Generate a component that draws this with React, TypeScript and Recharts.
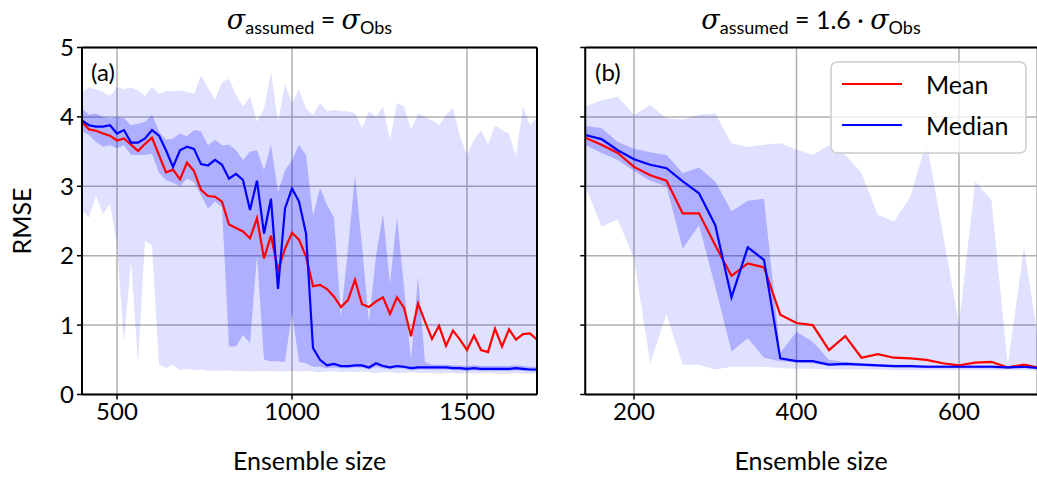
import React from 'react';
import { ComposedChart, Area, Line, XAxis, YAxis, CartesianGrid, ReferenceLine } from 'recharts';

const FONT = 'Lato, "DejaVu Sans", sans-serif';
const SERIF = '"DejaVu Serif", "Liberation Serif", serif';

// ---------- Panel (a): sigma_assumed = sigma_Obs ----------
const xA = [400,420,440,460,480,500,520,540,560,580,600,620,640,660,680,700,720,740,760,780,800,820,840,860,880,900,920,940,960,980,1000,1020,1040,1060,1080,1100,1120,1140,1160,1180,1200,1220,1240,1260,1280,1300,1320,1340,1360,1380,1400,1420,1440,1460,1480,1500,1520,1540,1560,1580,1600,1620,1640,1660,1680,1700];
const meanA = [3.93,3.82,3.80,3.76,3.73,3.66,3.69,3.60,3.51,3.61,
  3.70,3.45,3.20,3.24,3.10,3.34,3.22,2.95,2.86,2.85,
  2.78,2.45,2.40,2.35,2.25,2.54,1.96,2.29,1.79,2.10,
  2.33,2.23,1.99,1.56,1.58,1.52,1.41,1.26,1.36,1.65,
  1.30,1.26,1.34,1.40,1.16,1.40,1.25,0.84,1.31,1.05,
  0.80,0.99,0.70,0.92,0.79,0.64,0.85,0.64,0.61,0.95,
  0.69,0.94,0.79,0.87,0.88,0.79];
const medianA = [3.95,3.88,3.86,3.86,3.88,3.76,3.81,3.63,3.63,3.69,
  3.81,3.73,3.52,3.28,3.52,3.57,3.54,3.32,3.30,3.38,
  3.31,3.11,3.18,3.09,2.66,3.08,2.32,2.82,1.52,2.68,
  2.97,2.78,2.32,0.67,0.50,0.42,0.44,0.41,0.41,0.42,
  0.42,0.39,0.45,0.41,0.39,0.41,0.40,0.38,0.39,0.39,
  0.39,0.39,0.39,0.38,0.38,0.37,0.38,0.37,0.37,0.37,
  0.37,0.37,0.38,0.37,0.36,0.36];
const lightHiA = [4.36,4.42,4.40,4.36,4.30,4.43,4.40,4.42,4.38,4.30,
  4.43,4.33,4.37,4.37,4.38,4.36,4.33,4.60,4.42,4.25,
  4.50,4.55,4.32,4.15,4.29,3.93,4.12,4.65,3.93,4.48,
  4.20,4.39,4.12,4.03,4.20,4.08,4.10,4.08,4.08,4.05,
  3.84,4.08,4.00,4.15,3.67,4.20,4.15,3.81,4.05,4.00,
  3.95,3.88,4.03,4.13,3.72,3.45,3.67,3.81,3.60,3.88,
  3.81,3.76,3.43,4.15,3.88,4.00];
const lightLoA = [2.65,2.55,2.86,2.60,2.75,2.15,0.75,1.93,0.46,2.22,
  2.14,0.43,0.38,0.43,0.35,0.37,0.35,0.36,0.34,0.35,
  0.34,0.35,0.34,0.34,0.33,0.34,0.33,0.34,0.33,0.33,
  0.34,0.33,0.34,0.33,0.32,0.33,0.33,0.32,0.33,0.32,
  0.33,0.32,0.31,0.32,0.32,0.31,0.31,0.32,0.31,0.31,
  0.31,0.30,0.31,0.31,0.30,0.31,0.30,0.30,0.31,0.30,
  0.30,0.30,0.31,0.30,0.30,0.30];
const darkHiA = [4.12,4.03,4.05,4.00,3.98,4.00,3.98,3.88,3.90,3.93,
  4.03,3.79,3.67,3.69,3.76,3.72,3.81,3.79,3.59,3.67,
  3.59,3.60,3.52,3.38,3.50,3.52,3.23,3.60,2.92,3.23,
  3.38,3.60,3.45,2.58,2.98,2.73,2.55,1.12,2.10,3.16,
  2.14,1.04,2.00,2.60,1.60,2.56,1.55,0.50,1.70,0.47,
  0.43,0.43,0.43,0.42,0.42,0.41,0.42,0.41,0.41,0.41,
  0.41,0.41,0.42,0.41,0.40,0.40];
const darkLoA = [3.79,3.74,3.64,3.57,3.59,3.55,3.59,3.45,3.45,3.45,
  3.47,3.19,3.09,3.05,3.00,3.11,3.06,2.87,2.68,2.78,
  2.70,0.69,0.69,0.86,0.74,2.00,0.50,0.48,0.48,0.47,
  1.19,0.47,0.45,0.40,0.40,0.38,0.39,0.38,0.38,0.39,
  0.39,0.36,0.40,0.38,0.36,0.38,0.37,0.35,0.36,0.36,
  0.36,0.36,0.36,0.35,0.35,0.34,0.35,0.34,0.34,0.34,
  0.34,0.34,0.35,0.34,0.33,0.33];

// ---------- Panel (b): sigma_assumed = 1.6 * sigma_Obs ----------
const xB = [140,160,180,200,220,240,260,280,300,320,340,360,380,400,420,440,460,480,500,520,540,560,580,600,620,640,660,680,700];
const meanB = [3.70,3.60,3.48,3.28,3.16,3.08,2.61,2.61,2.15,1.71,1.89,1.83,1.15,1.03,1.00,0.64,0.84,0.53,0.58,0.53,0.52,0.50,0.45,0.42,0.46,0.47,0.39,0.43,0.38];
const medianB = [3.74,3.68,3.52,3.39,3.31,3.26,3.07,2.90,2.44,1.40,2.12,1.94,0.52,0.48,0.48,0.43,0.44,0.43,0.42,0.41,0.41,0.40,0.40,0.40,0.40,0.40,0.39,0.40,0.38];
const darkHiB = [3.87,3.84,3.64,3.54,3.49,3.45,3.19,3.27,3.07,2.64,2.79,2.82,0.60,0.90,0.76,0.50,0.47,0.45,0.44,0.43,0.43,0.42,0.42,0.42,0.42,0.42,0.41,0.42,0.40];
const darkLoB = [3.60,3.48,3.38,3.22,3.08,3.00,2.10,2.44,1.55,0.62,0.81,0.53,0.48,0.46,0.45,0.41,0.42,0.41,0.40,0.39,0.39,0.38,0.38,0.38,0.38,0.38,0.37,0.38,0.36];
const lightHiB = [4.15,4.24,4.29,4.03,4.17,3.98,3.96,4.03,4.05,3.62,3.57,3.60,3.62,3.53,3.45,3.59,3.45,3.19,2.59,2.49,2.85,3.64,2.33,1.02,3.07,2.80,0.42,2.12,0.60];
const lightLoB = [3.00,2.42,2.52,1.96,0.45,1.16,0.43,0.43,0.36,0.40,0.40,0.40,0.38,0.37,0.37,0.36,0.36,0.36,0.36,0.35,0.35,0.35,0.35,0.35,0.35,0.35,0.35,0.35,0.34];

const yTicks = [0, 1, 2, 3, 4, 5];
const xTicksA = [500, 1000, 1500];
const xTicksB = [200, 400, 600];
const legendLabels = ['Mean', 'Median'];

const rowsA = xA.map((x, i) => ({
  x, mean: meanA[i], median: medianA[i],
  light: [lightLoA[i], lightHiA[i]], dark: [darkLoA[i], darkHiA[i]],
}));
const rowsB = xB.map((x, i) => ({
  x, mean: meanB[i], median: medianB[i],
  light: [lightLoB[i], lightHiB[i]], dark: [darkLoB[i], darkHiB[i]],
}));

const tickStyle = { fill: '#000', fontSize: 24, fontFamily: FONT };
const tickLineStyle = { stroke: '#000', strokeWidth: 1.5 };
const axisLineStyle = { stroke: '#000', strokeWidth: 2 };

function Series() {
  return null;
}

function Panel({ rows, domain, xTicks, showYLabels, rightSpine, width, marginLeft, marginRight }: any) {
  return (
    <ComposedChart
      width={width}
      height={478}
      data={rows}
      margin={{ top: 47.5, right: marginRight, bottom: 82.5, left: marginLeft }}
    >
      <CartesianGrid stroke="#b0b0b0" strokeWidth={1.5} fill="none" />
      <XAxis
        type="number"
        dataKey="x"
        domain={domain}
        ticks={xTicks}
        allowDataOverflow
        height={1}
        tickSize={5}
        tickMargin={3}
        tick={tickStyle}
        tickLine={tickLineStyle}
        axisLine={axisLineStyle}
      />
      <YAxis
        type="number"
        domain={[0, 5]}
        ticks={yTicks}
        allowDataOverflow
        width={1}
        tickSize={5}
        tickMargin={3}
        tick={tickStyle}
        tickFormatter={showYLabels ? (v: number) => String(v) : () => ''}
        tickLine={tickLineStyle}
        axisLine={axisLineStyle}
      />
      <Area type="linear" dataKey="light" stroke="none" fill="#0000ff" fillOpacity={0.12} isAnimationActive={false} dot={false} activeDot={false} />
      <Area type="linear" dataKey="dark" stroke="none" fill="#0000ff" fillOpacity={0.22} isAnimationActive={false} dot={false} activeDot={false} />
      <Line type="linear" dataKey="mean" stroke="#ff0000" strokeWidth={2.2} dot={false} activeDot={false} isAnimationActive={false} />
      <Line type="linear" dataKey="median" stroke="#0000ff" strokeWidth={2.2} dot={false} activeDot={false} isAnimationActive={false} />
      <ReferenceLine y={5} stroke="#000" strokeWidth={2} />
      {rightSpine ? <ReferenceLine x={domain[1]} stroke="#000" strokeWidth={2} /> : null}
    </ComposedChart>
  );
}

function Title({ cx, factor }: { cx: number; factor?: string }) {
  return (
    <text x={cx} y={29} textAnchor="middle" fontSize={25} fontFamily={FONT} fill="#000">
      <tspan fontFamily={SERIF} fontStyle="italic" fontSize={27}>σ</tspan>
      <tspan fontSize={18} dy={5}>assumed</tspan>
      <tspan dy={-5}>{factor ? ' = ' + factor + ' · ' : ' = '}</tspan>
      <tspan fontFamily={SERIF} fontStyle="italic" fontSize={27}>σ</tspan>
      <tspan fontSize={18} dy={5}>Obs</tspan>
    </text>
  );
}

export default function App() {
  return (
    <div style={{ position: 'absolute', left: 0, top: 0, width: 1037, height: 478, background: '#fff', overflow: 'hidden' }}>
      <div style={{ position: 'absolute', left: 0, top: 0 }}>
        <Panel rows={rowsA} domain={[400, 1700]} xTicks={xTicksA} showYLabels rightSpine width={545} marginLeft={81} marginRight={8} />
      </div>
      <div style={{ position: 'absolute', left: 545, top: 0 }}>
        <Panel rows={rowsB} domain={[140, 696]} xTicks={xTicksB} showYLabels={false} rightSpine={false} width={492} marginLeft={39.25} marginRight={0} />
      </div>
      <svg width={1037} height={478} style={{ position: 'absolute', left: 0, top: 0, pointerEvents: 'none' }}>
        <Title cx={309.5} />
        <Title cx={811} factor="1.6" />
        <text x={91} y={81} fontSize={24} fontFamily={FONT} fill="#000">(a)</text>
        <text x={595} y={81} fontSize={24} fontFamily={FONT} fill="#000">(b)</text>
        <text transform="translate(31,221) rotate(-90)" textAnchor="middle" fontSize={25} fontFamily={FONT} fill="#000">RMSE</text>
        <text x={309.5} y={470} textAnchor="middle" fontSize={25} fontFamily={FONT} fill="#000">Ensemble size</text>
        <text x={811} y={470} textAnchor="middle" fontSize={25} fontFamily={FONT} fill="#000">Ensemble size</text>
        <g>
          <rect x={831} y={62} width={195} height={91} rx={6} ry={6} fill="#fff" fillOpacity={0.8} stroke="#cccccc" strokeWidth={1.5} />
          <line x1={842} y1={84} x2={902} y2={84} stroke="#ff0000" strokeWidth={2.2} />
          <line x1={842} y1={125} x2={902} y2={125} stroke="#0000ff" strokeWidth={2.2} />
          <text x={926} y={94} fontSize={25} fontFamily={FONT} fill="#000">{legendLabels[0]}</text>
          <text x={926} y={135} fontSize={25} fontFamily={FONT} fill="#000">{legendLabels[1]}</text>
        </g>
      </svg>
    </div>
  );
}
